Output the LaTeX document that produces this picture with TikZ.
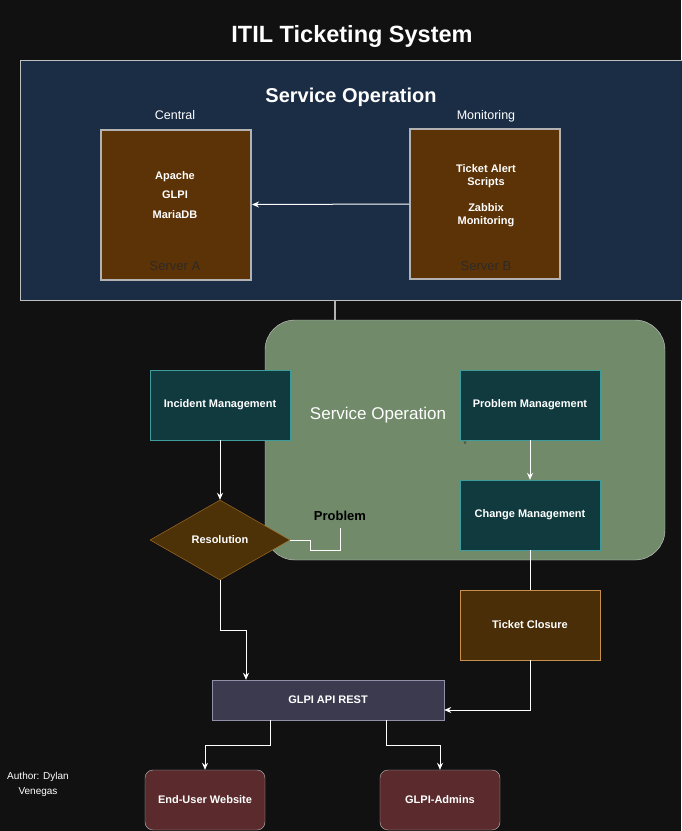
\documentclass[tikz,border=0pt]{standalone}
\usepackage{fontspec}
\setmainfont{Liberation Sans}
\usetikzlibrary{arrows.meta,shapes.geometric}
\definecolor{bgdark}{HTML}{111111}
\definecolor{navy}{HTML}{1A2D45}
\definecolor{srvbrown}{HTML}{5C3306}
\definecolor{tealbox}{HTML}{113A3E}
\definecolor{tealline}{HTML}{3F9C9C}
\definecolor{sage}{HTML}{718A6A}
\definecolor{diafill}{HTML}{4D3107}
\definecolor{dialine}{HTML}{B4782E}
\definecolor{closefill}{HTML}{4A2E07}
\definecolor{closeline}{HTML}{C8904A}
\definecolor{apifill}{HTML}{3C3A4F}
\definecolor{apiline}{HTML}{9090A8}
\definecolor{userfill}{HTML}{5A2A2C}
\definecolor{srvtext}{HTML}{2E2A26}

\begin{document}
\begin{tikzpicture}[x=1pt,y=-1pt,
  every node/.style={inner sep=0pt,text=white,font=\fontsize{11}{13}\selectfont\bfseries},
  server/.style={rectangle,draw=black!30,line width=2pt,fill=srvbrown,minimum width=150pt,minimum height=150pt},
  itil/.style={rectangle,draw=tealline,fill=tealbox,minimum width=140pt,minimum height=70pt},
  usr/.style={rectangle,rounded corners=8pt,draw=black!25,fill=userfill,minimum width=120pt,minimum height=60pt},
  lbl/.style={font=\fontsize{12.5}{14}\selectfont},
  srvname/.style={text=srvtext,font=\fontsize{13}{15}\selectfont},
  flow/.style={draw=white,line width=1pt},
  arr/.style={flow,-{Stealth[length=7pt,width=6pt]}}]
\useasboundingbox (0,0) rectangle (681,831);
\fill[bgdark] (0,0) rectangle (681,831);
\node[font=\fontsize{23.5}{26}\selectfont\bfseries] (title) at (352,36) {ITIL Ticketing System};
% top frame with the two servers
\node[rectangle,draw=black!25,fill=navy,minimum width=664pt,minimum height=240pt] (opsTop) at (352,180) {};
\node[font=\fontsize{20}{23}\selectfont\bfseries] (opsTopTitle) at (351,97) {Service Operation};
\node[lbl] (central) at (175,115) {Central};
\node[lbl] (monitor) at (486,116) {Monitoring};
\node[server] (srvA) at (176,204.5) {};
\node[server] (srvB) at (485,204) {};
\node[align=center,font=\fontsize{11}{19.5}\selectfont\bfseries] (stackA) at (175,195) {Apache\\GLPI\\MariaDB};
\node[align=center] (alerts) at (486,176) {Ticket Alert\\Scripts};
\node[align=center] (zabbix) at (486,215) {Zabbix\\Monitoring};
\node[srvname] (nameA) at (175,266) {Server A};
\node[srvname] (nameB) at (486,266) {Server B};
\draw[arr] (srvB.west) -- (srvA.east);
% middle frame
\node[rectangle,rounded corners=30pt,draw=black!20,fill=sage,minimum width=400pt,minimum height=240pt] (opsMid) at (465,440) {};
\coordinate (link) at (335,310);
\draw[draw=black!30,line width=2pt] (link |- opsTop.south) -- (link |- opsMid.north);
\node[font=\fontsize{17}{20}\selectfont] (opsMidTitle) at (378,415) {Service Operation};
\node[itil] (inc) at (220,405) {Incident Management};
\node[itil] (pbm) at (530,405) {Problem Management};
\node[itil] (chg) at (530,515) {Change Management};
\node[text=black!80,font=\fontsize{6}{7}\selectfont] (tick) at (465,443) {v};
\node[diamond,draw=dialine,fill=diafill,minimum width=140pt,minimum height=80pt] (res) at (220,540) {Resolution};
\node[text=black,font=\fontsize{13}{15}\selectfont\bfseries] (prob) at (340,516) {Problem};
\node[rectangle,draw=closeline,fill=closefill,minimum width=140pt,minimum height=70pt] (close) at (530,625) {Ticket Closure};
\node[rectangle,draw=apiline,fill=apifill,minimum width=232pt,minimum height=40pt] (api) at (328,700) {GLPI API REST};
\node[usr] (web) at (205,800) {End-User Website};
\node[usr] (admins) at (440,800) {GLPI-Admins};
\node[align=center,font=\fontsize{10}{15}\selectfont] (author) at (38,784) {Author: Dylan\\Venegas};
% connectors
\draw[arr] (inc.south) -- (res.north);
\draw[arr] (pbm.south) -- (chg.north);
\draw[flow] (res.east) -- (310,540) -- (310,550) -| ([yshift=-7pt]prob.south);
\coordinate (k1) at (246,630);
\draw[arr] (res.south) |- (k1) -- (k1 |- api.north);
\draw[flow] (chg.south) -- (close.north);
\coordinate (k2) at (530,710);
\draw[arr] (close.south) -- (k2) -- (k2 -| api.east);
\coordinate (k3) at (270,745);
\draw[arr] (k3 |- api.south) -- (k3) -| (web.north);
\coordinate (k4) at (386,745);
\draw[arr] (k4 |- api.south) -- (k4) -| (admins.north);
\end{tikzpicture}
\end{document}
